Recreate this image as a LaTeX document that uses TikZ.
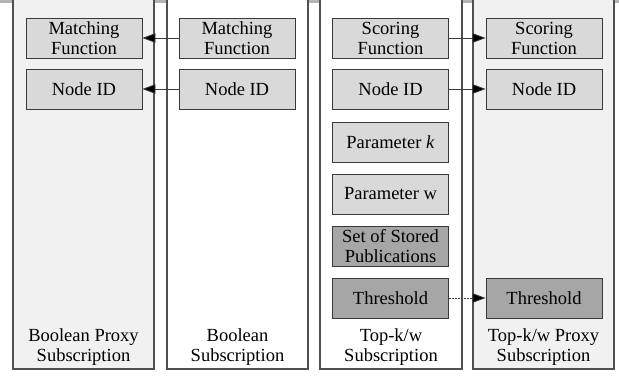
\documentclass[tikz,border=0pt]{standalone}
\usepackage{fontspec}
\setmainfont{Liberation Serif}
\usetikzlibrary{arrows.meta}
\definecolor{colfill}{HTML}{F1F1F1}
\definecolor{boxfill}{HTML}{D9D9D9}
\definecolor{darkfill}{HTML}{A6A6A6}
\definecolor{bordc}{HTML}{3A3A3A}
\definecolor{colbord}{HTML}{505050}
\definecolor{bandc}{HTML}{B4B4B4}
\tikzset{
  colbox/.style={draw=colbord, line width=1.2pt},
  item/.style={draw=bordc, line width=0.9pt, fill=boxfill, minimum width=116pt, minimum height=40pt, inner sep=0pt, align=center, font=\fontsize{18.5}{20}\selectfont},
  darkitem/.style={item, fill=darkfill},
  collabel/.style={align=center, font=\fontsize{18.5}{20.5}\selectfont, inner sep=0pt},
  conn/.style={draw=bordc, line width=0.8pt, -{Triangle[length=13pt,width=9.5pt,fill=black]}},
  dconn/.style={conn, dash pattern=on 2pt off 1pt}
}
\begin{document}
\begin{tikzpicture}[x=1pt,y=-1pt]
\useasboundingbox (0,0) rectangle (619,381);
\clip (0,0) rectangle (619,381);
\fill[bandc] (0,-5) rectangle (619,2.5);
% columns
\draw[colbox, fill=colfill] (13,-10) rectangle (154,369);
\draw[colbox, fill=white] (167,-10) rectangle (308,369);
\draw[colbox, fill=white] (320,-10) rectangle (462,369);
\draw[colbox, fill=colfill] (473,-10) rectangle (614,369);
% column labels
\node[collabel] (l1) at (83.5,347) {Boolean Proxy\\Subscription};
\node[collabel] (l2) at (237.5,347) {Boolean\\Subscription};
\node[collabel] (l3) at (391,347) {Top-k/w\\Subscription};
\node[collabel] (l4) at (543.5,347) {Top-k/w Proxy\\Subscription};
% column 1
\node[item] (a1) at (84,38) {Matching\\Function};
\node[item] (a2) at (84,89) {Node ID};
% column 2
\node[item] (b1) at (237,38) {Matching\\Function};
\node[item] (b2) at (237,89) {Node ID};
% column 3
\node[item] (c1) at (390.5,38) {Scoring\\Function};
\node[item] (c2) at (390.5,89) {Node ID};
\node[item] (c3) at (390.5,142) {Parameter \textit{k}};
\node[item] (c4) at (390.5,194) {Parameter w};
\node[darkitem] (c5) at (390.5,246) {Set of Stored\\Publications};
\node[darkitem] (c6) at (390.5,298) {Threshold};
% column 4
\node[item] (d1) at (544,38) {Scoring\\Function};
\node[item] (d2) at (544,89) {Node ID};
\node[darkitem] (d6) at (544,298) {Threshold};
% connectors
\draw[conn] (b1.west) -- (a1.east);
\draw[conn] (b2.west) -- (a2.east);
\draw[conn] (c1.east) -- (d1.west);
\draw[conn] (c2.east) -- (d2.west);
\draw[dconn] (c6.east) -- (d6.west);
\end{tikzpicture}
\end{document}
